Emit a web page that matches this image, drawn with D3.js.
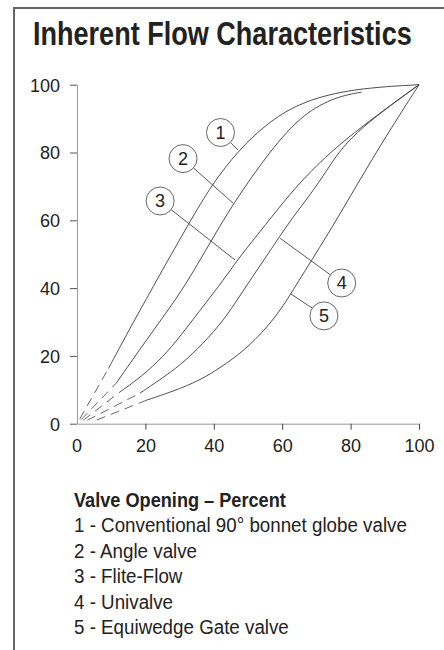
<!DOCTYPE html>
<html>
<head>
<meta charset="utf-8">
<script src="https://cdn.jsdelivr.net/npm/d3@7"></script>
<style>
  html, body { margin: 0; padding: 0; background: #fff; }
  svg { display: block; }
</style>
</head>
<body>
<svg id="chart" width="444" height="650"></svg>
<script>
// ---------- data ----------
const titleText = "Inherent Flow Characteristics";
const axisHeading = "Valve Opening \u2013 Percent";
const xTicks = [20, 40, 60, 80, 100];
const yTicks = [0, 20, 40, 60, 80, 100];

// dashed lead-in portion (near origin) of each curve
const dash1 = [[0.8, 1.4], [9.2, 16.3]];
const dash2 = [[1.2, 1.2], [11.5, 12.0]];
const dash3 = [[1.8, 1.0], [12.6, 9.4]];
const dash4 = [[3.0, 1.0], [18.4, 9.0]];
const dash5 = [[5.8, 1.1], [20.5, 7.0]];

// solid portion of each curve
const curve1 = [[9.2,16.3],[12.6,22.7],[16.5,30],[20.4,37],[24,43.6],[33,59.6],[39.4,70.5],[47.2,80.7],[56.4,89.4],[66.2,95.2],[80.8,98.9],[100,100]];
const curve2 = [[11.5,12.0],[18.9,22.7],[28.7,36.4],[32.5,42.3],[39.4,54.2],[45.7,65],[56.4,80.5],[66.2,91.6],[75.9,96.5],[83.2,97.8]];
const curve3 = [[12.6,9.4],[18.9,13.9],[25.2,19.8],[30,25.5],[37.9,36],[42.8,42.3],[47,48.5],[53.5,56.6],[60,65],[68.1,74.5],[79.8,85.2],[100,100]];
const curve4 = [[18.4,9.0],[25.2,13.6],[30,17.2],[35,21.7],[41.8,29.1],[46.2,35.5],[50.6,42.3],[55,48.8],[58.9,54.7],[63,60.8],[68.1,67.4],[73,74.6],[79.8,85.2],[100,100]];
const curve5 = [[20.5,7.0],[28,9.5],[36,12.8],[42,16.6],[48.6,21.3],[55.5,28.2],[60.8,35.4],[64.7,42],[74.5,57.6],[85.7,77.2],[94.4,91.2],[100,100]];

// callouts: label, circle centre, point on curve (data units)
const calloutLabels  = ["1", "2", "3", "4", "5"];
const calloutCenters = [[41.96, 85.9], [31.0, 78.2], [24.3, 65.7], [77.4, 41.5], [72.2, 31.8]];
const calloutTargets = [[47.1, 80.7], [45.7, 65.0], [46.2, 48.3], [59.4, 54.7], [62.5, 38.3]];

const legendItems = [
  "1 - Conventional 90\u00b0 bonnet globe valve",
  "2 - Angle valve",
  "3 - Flite-Flow",
  "4 - Univalve",
  "5 - Equiwedge Gate valve"
];

// ---------- drawing ----------
const svg = d3.select("#chart");
const x = d3.scaleLinear().domain([0, 100]).range([77, 419]);
const y = d3.scaleLinear().domain([0, 100]).range([423.7, 84.7]);

const sans = "'Liberation Sans', Arial, Helvetica, sans-serif";

// condensed text: Liberation Sans squeezed horizontally to a target width
function condensedText(parent, str, tx, ty, fs, bold, target, sxFixed) {
  const t = parent.append("text").attr("x", 0).attr("y", 0)
    .attr("font-family", sans).attr("font-size", fs)
    .attr("font-weight", bold ? "bold" : "normal").attr("fill", "#222").text(str);
  const sx = sxFixed || target / t.node().getComputedTextLength();
  t.attr("transform", `translate(${tx},${ty}) scale(${sx},1)`);
  return sx;
}

// frame
svg.append("line").attr("x1", 14).attr("x2", 14).attr("y1", 8).attr("y2", 650)
  .attr("stroke", "#666").attr("stroke-width", 2);
svg.append("line").attr("x1", 13).attr("x2", 444).attr("y1", 8).attr("y2", 8)
  .attr("stroke", "#666").attr("stroke-width", 1.8);

// title
condensedText(svg, titleText, 33, 44.5, 33, true, 379);

// axes
const yAxis = d3.axisLeft(y).tickValues(yTicks).tickSize(7).tickSizeOuter(0).tickPadding(10);
const gy = svg.append("g").attr("transform", "translate(77,0)").call(yAxis);
gy.select(".domain").attr("stroke", "#999").attr("stroke-width", 1);
gy.selectAll(".tick line").attr("stroke", "#555").attr("stroke-width", 1);
gy.selectAll(".tick text").attr("font-family", sans).attr("font-size", 18)
  .attr("fill", "#222").attr("dy", "0.36em");

const xAxis = d3.axisBottom(x).tickValues(xTicks).tickSize(6).tickSizeOuter(0).tickPadding(9.5);
const gx = svg.append("g").attr("transform", "translate(0,423.7)").call(xAxis);
gx.select(".domain").attr("stroke", "#999").attr("stroke-width", 1);
gx.selectAll(".tick line").attr("stroke", "#444").attr("stroke-width", 1);
gx.selectAll(".tick text").attr("font-family", sans).attr("font-size", 18).attr("fill", "#222");
// "0" label at origin
gx.append("text").attr("x", x(0)).attr("y", 6 + 9.5).attr("dy", "0.71em")
  .attr("text-anchor", "middle").attr("font-family", sans).attr("font-size", 18)
  .attr("fill", "#222").text("0");

// curves
const line = d3.line().x(d => x(d[0])).y(d => y(d[1])).curve(d3.curveBasis);
const dashes = [dash1, dash2, dash3, dash4, dash5];
const curves = [curve1, curve2, curve3, curve4, curve5];
const gc = svg.append("g").attr("fill", "none");
dashes.forEach(d => {
  gc.append("path").attr("d", line(d)).attr("stroke", "#555")
    .attr("stroke-width", 0.9).attr("stroke-dasharray", "9,6");
});
curves.forEach(d => {
  gc.append("path").attr("d", line(d)).attr("stroke", "#3a3a3a").attr("stroke-width", 0.9);
});

// callouts
const R = 14;
calloutLabels.forEach((lab, i) => {
  const cx = x(calloutCenters[i][0]), cy = y(calloutCenters[i][1]);
  const tx = x(calloutTargets[i][0]), ty = y(calloutTargets[i][1]);
  const dx = tx - cx, dy = ty - cy, L = Math.hypot(dx, dy);
  svg.append("line").attr("x1", cx + dx / L * R).attr("y1", cy + dy / L * R)
    .attr("x2", tx).attr("y2", ty).attr("stroke", "#444").attr("stroke-width", 0.9);
  svg.append("circle").attr("cx", cx).attr("cy", cy).attr("r", R)
    .attr("fill", "#fff").attr("stroke", "#555").attr("stroke-width", 0.9);
  svg.append("text").attr("x", cx).attr("y", cy).attr("dy", "0.36em")
    .attr("text-anchor", "middle").attr("font-family", sans).attr("font-size", 18)
    .attr("fill", "#222").text(lab);
});

// legend
condensedText(svg, axisHeading, 74, 506.7, 19.5, true, 212);
const g = svg.append("g");
let sxItems = null;
legendItems.forEach((t, i) => {
  const s = condensedText(g, t, 74, 532 + i * 25.6, 21, false, 333, sxItems);
  if (sxItems === null) sxItems = s;
});
</script>
</body>
</html>
